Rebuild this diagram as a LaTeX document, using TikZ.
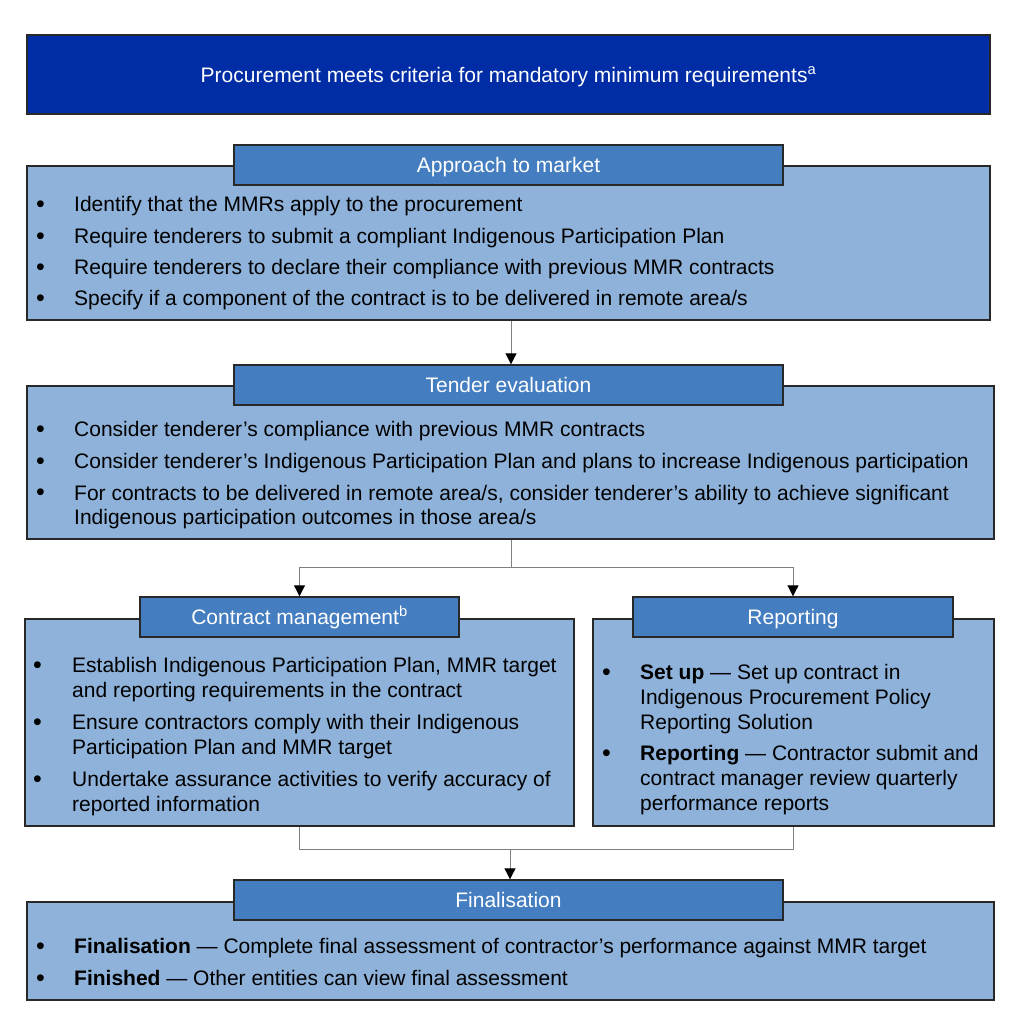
\documentclass[tikz,border=0pt]{standalone}
\usepackage{fontspec}
\setmainfont{Liberation Sans}
\usetikzlibrary{arrows.meta}
\definecolor{topblue}{RGB}{0,45,165}
\definecolor{hdrblue}{RGB}{68,126,192}
\definecolor{bodyblue}{RGB}{142,178,218}
\definecolor{edgegray}{RGB}{40,40,40}
\definecolor{linkgray}{RGB}{128,128,128}
\begin{document}
\begin{tikzpicture}[x=1pt,y=-1pt,
  every node/.style={font=\fontsize{21}{25}\selectfont, inner sep=0pt},
  body/.style={draw=edgegray, line width=1.4pt, fill=bodyblue},
  hdr/.style={draw=edgegray, line width=1.4pt, fill=hdrblue, text=white,
    minimum height=40pt, text height=18pt, text depth=3pt},
  topbox/.style={draw=edgegray, line width=1.4pt, fill=topblue, text=white,
    minimum width=963pt, minimum height=79pt, text height=18pt, text depth=3pt},
  item/.style={anchor=base west, align=left},
  dot/.style={anchor=base west, font=\fontsize{25}{25}\selectfont},
  link/.style={draw=linkgray, line width=1pt},
  arr/.style={link, -{Triangle[length=11pt,width=11pt,color=black]}}]
\useasboundingbox (0,0) rectangle (1021,1036);
% top box
\node[topbox] (top) at (508.5,74.5) {Procurement meets criteria for mandatory minimum requirements\textsuperscript{a}};
% approach to market
\node[body, minimum width=963pt, minimum height=154pt] (apb) at (508.5,243) {};
\node[hdr, minimum width=549pt] (aph) at (508.5,165) {Approach to market};
\node[dot] (apd1) at (36,212) {•};
\node[item] (apt1) at (74,211.5) {Identify that the MMRs apply to the procurement};
\node[dot] (apd2) at (36,244) {•};
\node[item] (apt2) at (74,243.5) {Require tenderers to submit a compliant Indigenous Participation Plan};
\node[dot] (apd3) at (36,275) {•};
\node[item] (apt3) at (74,274.5) {Require tenderers to declare their compliance with previous MMR contracts};
\node[dot] (apd4) at (36,306) {•};
\node[item] (apt4) at (74,305.5) {Specify if a component of the contract is to be delivered in remote area/s};
% tender evaluation
\node[body, minimum width=967pt, minimum height=153pt] (teb) at (510.5,462.5) {};
\node[hdr, minimum width=549pt] (teh) at (508.5,385) {Tender evaluation};
\node[dot] (ted1) at (36,437) {•};
\node[item] (tet1) at (74,436.5) {Consider tenderer's compliance with previous MMR contracts};
\node[dot] (ted2) at (36,469) {•};
\node[item] (tet2) at (74,468.5) {Consider tenderer's Indigenous Participation Plan and plans to increase Indigenous participation};
\node[dot] (ted3) at (36,500.5) {•};
\node[item, font=\fontsize{21}{24}\selectfont] (tet3) at (74,524) {For contracts to be delivered in remote area/s, consider tenderer's ability to achieve significant\\Indigenous participation outcomes in those area/s};
% contract management
\node[body, minimum width=549pt, minimum height=207pt] (cmb) at (299.5,722.5) {};
\node[hdr, minimum width=319pt] (cmh) at (299.5,617) {Contract management\textsuperscript{b}};
\node[dot] (cmd1) at (33,673) {•};
\node[item] (cmt1) at (72,697.5) {Establish Indigenous Participation Plan, MMR target\\and reporting requirements in the contract};
\node[dot] (cmd2) at (33,730) {•};
\node[item] (cmt2) at (72,754.5) {Ensure contractors comply with their Indigenous\\Participation Plan and MMR target};
\node[dot] (cmd3) at (33,787) {•};
\node[item] (cmt3) at (72,811.5) {Undertake assurance activities to verify accuracy of\\reported information};
% reporting
\node[body, minimum width=401pt, minimum height=207pt] (rpb) at (793.5,722.5) {};
\node[hdr, minimum width=320pt] (rph) at (793,617) {Reporting};
\node[dot] (rpd1) at (602,680) {•};
\node[item] (rpt1) at (640,729.5) {\textbf{Set up} — Set up contract in\\Indigenous Procurement Policy\\Reporting Solution};
\node[dot] (rpd2) at (602,761) {•};
\node[item] (rpt2) at (640,810.5) {\textbf{Reporting} — Contractor submit and\\contract manager review quarterly\\performance reports};
% finalisation
\node[body, minimum width=967pt, minimum height=98pt] (fnb) at (510.5,951) {};
\node[hdr, minimum width=549pt] (fnh) at (508.5,900) {Finalisation};
\node[dot] (fnd1) at (36,954) {•};
\node[item] (fnt1) at (74,953.5) {\textbf{Finalisation} — Complete final assessment of contractor's performance against MMR target};
\node[dot] (fnd2) at (36,986) {•};
\node[item] (fnt2) at (74,985.5) {\textbf{Finished} — Other entities can view final assessment};
% connectors
\coordinate (split) at (511,567);
\coordinate (join) at (510,849);
\draw[arr] (apb.south -| 511,0) -- (teh.north -| 511,0);
\draw[link] (teb.south -| split) -- (split);
\draw[arr] (split) -| (cmh.north);
\draw[arr] (split) -| (rph.north);
\draw[link] (cmb.south) |- (join);
\draw[link] (rpb.south) |- (join);
\draw[arr] (join) -- (fnh.north -| join);
\end{tikzpicture}
\end{document}
